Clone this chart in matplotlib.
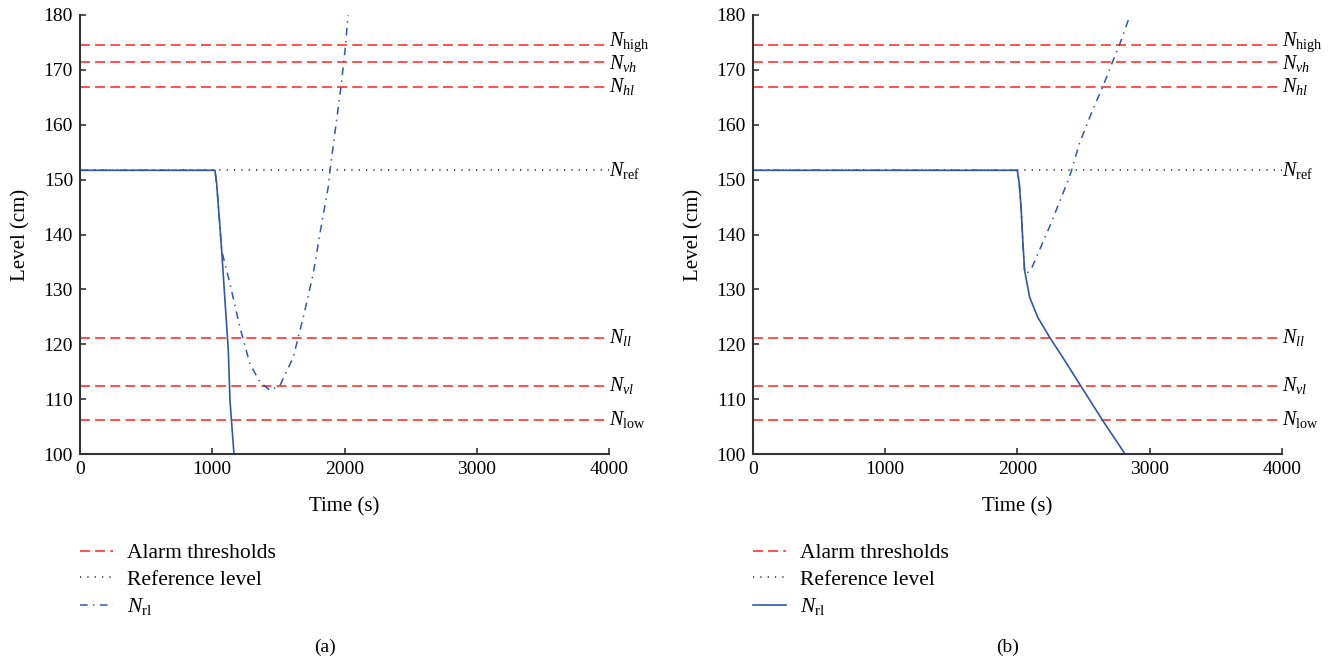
import matplotlib
matplotlib.use("Agg")
import matplotlib.pyplot as plt

plt.rcParams['font.family'] = ['Liberation Serif', 'DejaVu Serif']
plt.rcParams['mathtext.fontset'] = 'custom'
plt.rcParams['mathtext.rm'] = 'Liberation Serif'
plt.rcParams['mathtext.it'] = 'Liberation Serif:italic'
plt.rcParams['font.size'] = 14

# threshold levels (cm)
thr_names = [r'$N_{\mathrm{high}}$', r'$N_{vh}$', r'$N_{hl}$',
             r'$N_{ll}$', r'$N_{vl}$', r'$N_{\mathrm{low}}$']
thr_levels = [174.5, 171.5, 166.9, 121.2, 112.4, 106.2]
ref_level = 151.7

# panel (a)
a_t_solid = [0, 1020, 1033, 1058, 1071, 1096, 1121, 1134, 1164]
a_l_solid = [151.7, 151.7, 149.3, 141.4, 137.1, 128.0, 118.9, 109.7, 100.0]
a_t_dd = [0, 1020, 1033, 1058, 1071, 1134, 1209, 1285, 1361, 1436, 1512,
          1612, 1688, 1763, 1814, 1877, 1890, 1973, 2008, 2026]
a_l_dd = [151.7, 151.7, 149.3, 141.4, 137.1, 131.0, 123.1, 116.4, 113.1, 111.6, 112.5,
          117.6, 124.9, 132.8, 140.2, 148.7, 151.7, 166.9, 174.5, 180.0]

# panel (b)
b_t_solid = [0, 2000, 2015, 2030, 2043, 2055, 2093, 2155, 2244, 2344, 2483, 2646, 2815]
b_l_solid = [151.7, 151.7, 149.3, 144.4, 138.3, 133.5, 128.6, 124.9, 121.3, 117.6, 112.3, 106.1, 100.0]
b_t_dd = [0, 2000, 2015, 2030, 2043, 2055, 2070, 2113, 2244, 2395, 2470, 2570, 2646, 2721, 2772, 2853]
b_l_dd = [151.7, 151.7, 149.3, 144.4, 138.3, 133.5, 132.8, 134.1, 141.4, 150.5, 156.6, 162.7,
          166.9, 171.5, 174.5, 180.0]

blue = '#3356a8'

fig = plt.figure(figsize=(13.38, 6.63), dpi=100)
ax1 = fig.add_axes([0.0598, 0.3152, 0.3954, 0.6622])
ax2 = fig.add_axes([0.5626, 0.3152, 0.3954, 0.6622])

# small vertical nudges (points) so the two top labels do not collide
nudge = [2.0, -1.0, 0, 0, 0, 0]


def draw(ax, t_solid, l_solid, t_dd, l_dd, legend_line):
    h_alarm = None
    for lv in thr_levels:
        h_alarm, = ax.plot([0, 4000], [lv, lv], color='#ff2020', lw=1.1,
                           dashes=(6.5, 3.4))
    h_ref, = ax.plot([0, 4000], [ref_level, ref_level], color='#222222', lw=1.1,
                     dashes=(0.8, 4.0))
    h_dd, = ax.plot(t_dd, l_dd, color=blue, lw=1.1, dashes=(5, 3.5, 1, 3.5))
    h_solid, = ax.plot(t_solid, l_solid, color=blue, lw=1.2)

    for name, lv, dy in zip(thr_names, thr_levels, nudge):
        ax.annotate(name, (4000, lv), xytext=(0, dy), textcoords='offset points',
                    ha='left', va='center', fontsize=14.5, annotation_clip=False)
    ax.text(4000, ref_level, r'$N_{\mathrm{ref}}$', ha='left', va='center',
            fontsize=14.5, clip_on=False)

    ax.set_xlim(0, 4000)
    ax.set_ylim(100, 180)
    ax.set_xticks([0, 1000, 2000, 3000, 4000])
    ax.set_yticks(range(100, 181, 10))
    ax.spines['top'].set_visible(False)
    ax.spines['right'].set_visible(False)
    for s in ['left', 'bottom']:
        ax.spines[s].set_color('#333333')
        ax.spines[s].set_linewidth(1.5)
    ax.tick_params(direction='in', length=4, width=1.2, color='#333333', pad=5)
    ax.set_xlabel('Time (s)', fontsize=15)
    ax.set_ylabel('Level (cm)', fontsize=15)
    ax.xaxis.set_label_coords(0.5, -0.098)
    ax.yaxis.set_label_coords(-0.094, 0.5)

    line = h_dd if legend_line == 'dd' else h_solid
    ax.legend([h_alarm, h_ref, line],
              ['Alarm thresholds', 'Reference level', r'$N_{\mathrm{rl}}$'],
              loc='upper left', bbox_to_anchor=(0, -0.203), borderaxespad=0,
              borderpad=0, frameon=False, handlelength=1.55, handletextpad=0.65,
              labelspacing=0.3, fontsize=15.5)


draw(ax1, a_t_solid, a_l_solid, a_t_dd, a_l_dd, 'dd')
draw(ax2, b_t_solid, b_l_solid, b_t_dd, b_l_dd, 'solid')

fig.text(325 / 1338, 1 - 647 / 663, '(a)', ha='center', va='center', fontsize=14)
fig.text(1008 / 1338, 1 - 647 / 663, '(b)', ha='center', va='center', fontsize=14)

fig.savefig('out.png', dpi=100)
